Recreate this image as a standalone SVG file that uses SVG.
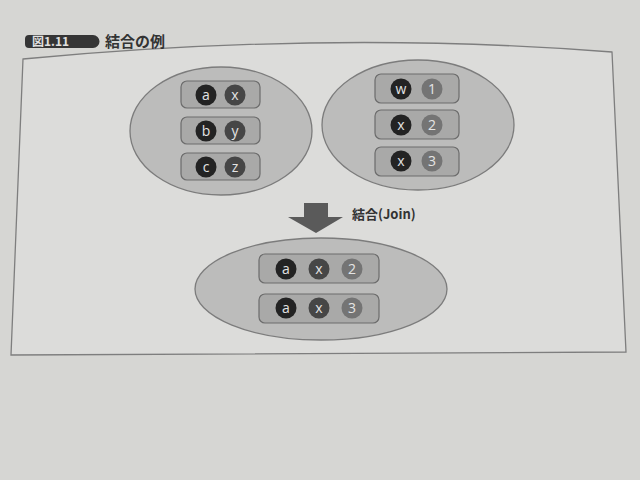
<svg xmlns="http://www.w3.org/2000/svg" width="640" height="480" viewBox="0 0 640 480">
<style>
.set{fill:#bcbcbb;stroke:#7c7c7c;stroke-width:1.3}
.row{fill:#a9a9a8;stroke:#6c6c6c;stroke-width:1.2}
.c1{fill:#232323}
.c2{fill:#464646}
.c3{fill:#747474}
.t{font-family:"Open Sans","Noto Sans",sans-serif;font-size:14px;fill:#e4e4e4;text-anchor:middle;dominant-baseline:central}
.ttl{font-family:"Noto Sans CJK JP","Noto Sans",sans-serif;font-weight:bold;fill:#333}
</style>
<rect x="0" y="0" width="640" height="480" fill="#d6d6d3"/>
<g id="frame">
<path d="M23,59 Q330,30 612,52 L626,352 L11,355 Z" fill="#dcdcda" stroke="#7e7e7e" stroke-width="1.3"/>
</g>
<g id="title">
<path d="M29,35 H93 A6.5,6.5 0 0 1 93,48 H29 A4,4 0 0 1 25,44 V39 A4,4 0 0 1 29,35 Z" fill="#353535"/>
<text x="32" y="46" class="ttl" font-size="12" fill="#e0e0e0" style="fill:#e0e0e0">図1.11</text>
<text x="105" y="47" class="ttl" font-size="15">結合の例</text>
</g>
<g id="left-set">
<ellipse class="set" cx="221" cy="131" rx="91" ry="64"/>
<rect class="row" x="181" y="81" width="79" height="27" rx="6"/>
<circle class="c1" cx="206" cy="95" r="10.5"/><text class="t" x="206" y="94">a</text>
<circle class="c2" cx="235" cy="95" r="10.5"/><text class="t" x="235" y="94">x</text>
<rect class="row" x="181" y="117" width="79" height="27" rx="6"/>
<circle class="c1" cx="206" cy="131" r="10.5"/><text class="t" x="206" y="130">b</text>
<circle class="c2" cx="235" cy="131" r="10.5"/><text class="t" x="235" y="130">y</text>
<rect class="row" x="181" y="153" width="79" height="27" rx="6"/>
<circle class="c1" cx="206" cy="167" r="10.5"/><text class="t" x="206" y="166">c</text>
<circle class="c2" cx="235" cy="167" r="10.5"/><text class="t" x="235" y="166">z</text>
</g>
<g id="right-set">
<ellipse class="set" cx="418" cy="125" rx="96" ry="65"/>
<rect class="row" x="375" y="74" width="84" height="29" rx="6"/>
<circle class="c1" cx="401" cy="89" r="10.5"/><text class="t" x="401" y="88">w</text>
<circle class="c3" cx="432" cy="89" r="10.5"/><text class="t" x="432" y="88">1</text>
<rect class="row" x="375" y="110" width="84" height="29" rx="6"/>
<circle class="c1" cx="401" cy="125" r="10.5"/><text class="t" x="401" y="124">x</text>
<circle class="c3" cx="432" cy="125" r="10.5"/><text class="t" x="432" y="124">2</text>
<rect class="row" x="375" y="147" width="84" height="29" rx="6"/>
<circle class="c1" cx="401" cy="161" r="10.5"/><text class="t" x="401" y="160">x</text>
<circle class="c3" cx="432" cy="161" r="10.5"/><text class="t" x="432" y="160">3</text>
</g>
<g id="connectors">
<polygon points="304,203 328,203 328,217 343,217 316,233 288,217 304,217" fill="#5a5a5a"/>
<text x="352" y="219" class="ttl" font-size="13">結合(Join)</text>
</g>
<g id="result-set">
<ellipse class="set" cx="321" cy="289" rx="126" ry="51"/>
<rect class="row" x="259" y="254" width="120" height="29" rx="6"/>
<circle class="c1" cx="286" cy="269" r="10.5"/><text class="t" x="286" y="268">a</text>
<circle class="c2" cx="319" cy="269" r="10.5"/><text class="t" x="319" y="268">x</text>
<circle class="c3" cx="352" cy="269" r="10.5"/><text class="t" x="352" y="268">2</text>
<rect class="row" x="259" y="294" width="120" height="29" rx="6"/>
<circle class="c1" cx="286" cy="308" r="10.5"/><text class="t" x="286" y="307">a</text>
<circle class="c2" cx="319" cy="308" r="10.5"/><text class="t" x="319" y="307">x</text>
<circle class="c3" cx="352" cy="308" r="10.5"/><text class="t" x="352" y="307">3</text>
</g>
</svg>
